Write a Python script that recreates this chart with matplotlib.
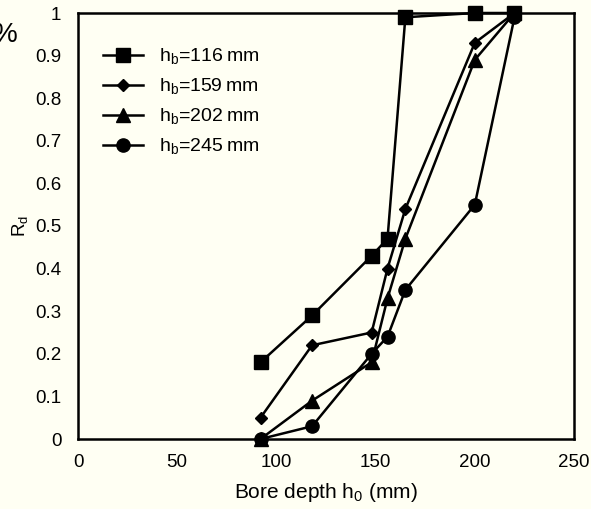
import matplotlib
matplotlib.use("Agg")
import matplotlib.pyplot as plt

plt.rcParams['font.family'] = ['Liberation Sans', 'DejaVu Sans']

depth = [92, 118, 148, 156, 165, 200, 220]
rd_116 = [0.18, 0.29, 0.43, 0.47, 0.99, 1.0, 1.0]
rd_159 = [0.05, 0.22, 0.25, 0.40, 0.54, 0.93, 1.0]
rd_202 = [0.0, 0.09, 0.18, 0.33, 0.47, 0.89, 1.0]
rd_245 = [0.0, 0.03, 0.20, 0.24, 0.35, 0.55, 0.99]
labels = ['h$_\\mathregular{b}$=116\u2009mm', 'h$_\\mathregular{b}$=159\u2009mm',
          'h$_\\mathregular{b}$=202\u2009mm', 'h$_\\mathregular{b}$=245\u2009mm']
xticks = [0, 50, 100, 150, 200, 250]
yticks = [0, 0.1, 0.2, 0.3, 0.4, 0.5, 0.6, 0.7, 0.8, 0.9, 1]
ytick_labels = ['0', '0.1', '0.2', '0.3', '0.4', '0.5', '0.6', '0.7', '0.8', '0.9', '1']

bg = '#fffff3'
fig = plt.figure(figsize=(5.91, 5.09), dpi=100, facecolor=bg)
ax = fig.add_axes([78 / 591, 1 - 439 / 509, (574 - 78) / 591, (439 - 13) / 509])
ax.set_facecolor(bg)

styles = [('s', 9.5), ('D', 6), ('^', 9.5), ('o', 9.5)]
for ys, lab, (m, ms) in zip([rd_116, rd_159, rd_202, rd_245], labels, styles):
    ax.plot(depth, ys, color='black', lw=1.8, marker=m, markersize=ms,
            label=lab, clip_on=False, zorder=3)

ax.set_xlim(0, 250)
ax.set_ylim(0, 1)
ax.set_xticks(xticks)
ax.set_yticks(yticks)
ax.set_yticklabels(ytick_labels)
ax.tick_params(axis='both', length=0, labelsize=13.5)
ax.tick_params(axis='x', pad=11)
ax.tick_params(axis='y', pad=12)
for s in ax.spines.values():
    s.set_linewidth(1.8)

ax.set_xlabel('Bore depth h$_\\mathregular{0}$ (mm)', fontsize=15, labelpad=7)
ax.set_ylabel('R$_\\mathregular{d}$', fontsize=13.5, labelpad=3)

ax.legend(loc='upper left', frameon=False, fontsize=14, handlelength=2.05,
          bbox_to_anchor=(0.035, 0.94), labelspacing=0.5, handletextpad=0.82,
          borderaxespad=0.0)

fig.text(-7 / 591, 1 - 35 / 509, '%', fontsize=20, va='center', ha='left')

fig.savefig('out.png', dpi=100, facecolor=bg)
